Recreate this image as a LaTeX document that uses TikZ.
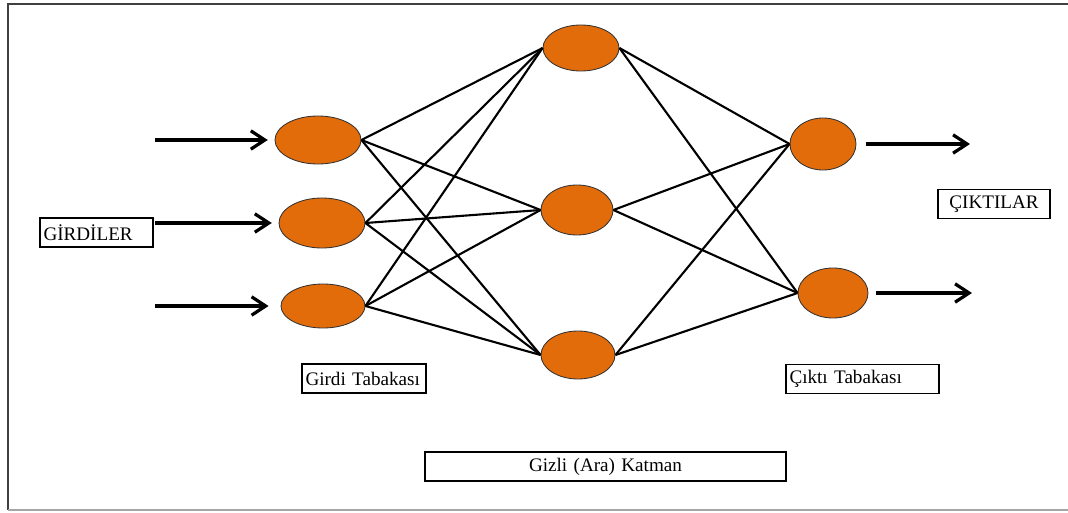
\documentclass[tikz,border=0pt]{standalone}
\usepackage{fontspec}
\setmainfont{Liberation Serif}
\usetikzlibrary{shapes.geometric,arrows.meta}
\definecolor{cellorange}{HTML}{E36C0A}
\tikzset{
  neuron/.style={ellipse, draw=black!80, fill=cellorange, inner sep=0pt, line width=0.6pt},
  link/.style={line width=1.5pt},
  feed/.style={line width=2.3pt, -{Straight Barb[length=3.5mm,width=4.6mm]}},
  tag/.style={draw, line width=0.9pt, inner xsep=2.5pt, inner ysep=0pt, minimum height=0.72cm, font=\fontsize{13.6}{15}\selectfont},
}

\begin{document}
\begin{tikzpicture}[x=0.025cm, y=-0.025cm]
    \useasboundingbox (0,0) rectangle (1068,513);
    % frame
    \draw[black!75, line width=1pt] (1068,4) -- (8,4) -- (8,510);
    \draw[black!35, line width=1pt] (8,510) -- (1068,510);
    % input layer
    \node[neuron, minimum width=2.15cm, minimum height=1.2cm] (inA) at (318,140) {};
    \node[neuron, minimum width=2.15cm, minimum height=1.25cm] (inB) at (322,223) {};
    \node[neuron, minimum width=2.1cm, minimum height=1.1cm] (inC) at (323,306) {};
    % hidden layer
    \node[neuron, minimum width=1.9cm, minimum height=1.15cm] (hidA) at (581,48) {};
    \node[neuron, minimum width=1.8cm, minimum height=1.25cm] (hidB) at (577,210) {};
    \node[neuron, minimum width=1.85cm, minimum height=1.2cm] (hidC) at (578,355) {};
    % output layer
    \node[neuron, minimum width=1.65cm, minimum height=1.3cm] (outA) at (823,144) {};
    \node[neuron, minimum width=1.75cm, minimum height=1.25cm] (outB) at (833,293) {};
    % weights input -> hidden
    \draw[link] (inA.east) -- (hidA.west);
    \draw[link] (inA.east) -- (hidB.west);
    \draw[link] (inA.east) -- (hidC.west);
    \draw[link] (inB.east) -- (hidA.west);
    \draw[link] (inB.east) -- (hidB.west);
    \draw[link] (inB.east) -- (hidC.west);
    \draw[link] (inC.east) -- (hidA.west);
    \draw[link] (inC.east) -- (hidB.west);
    \draw[link] (inC.east) -- (hidC.west);
    % weights hidden -> output
    \draw[link] (hidA.east) -- (outA.west);
    \draw[link] (hidA.east) -- (outB.west);
    \draw[link] (hidB.east) -- (outA.west);
    \draw[link] (hidB.east) -- (outB.west);
    \draw[link] (hidC.east) -- (outA.west);
    \draw[link] (hidC.east) -- (outB.west);
    % incoming and outgoing signals
    \coordinate (srcA) at (155,140);
    \coordinate (srcB) at (155,223);
    \coordinate (srcC) at (155,306);
    \coordinate (dstA) at (970,144);
    \coordinate (dstB) at (972,293);
    \draw[feed, shorten >=0.17cm] (srcA) -- (inA.west);
    \draw[feed, shorten >=0.17cm] (srcB) -- (inB.west);
    \draw[feed, shorten >=0.3cm] (srcC) -- (inC.west);
    \draw[feed, shorten <=0.25cm] (outA.east) -- (dstA);
    \draw[feed, shorten <=0.2cm] (outB.east) -- (dstB);
    % labels
    \node[tag, text width=2.825cm-5pt, align=left] (inputs) at (96.5,232.5) {GİRDİLER};
    \node[tag, text width=2.8cm-5pt, align=center] (outputs) at (994,204) {ÇIKTILAR};
    \node[tag, text width=3.1cm-5pt, align=left] (inlayer) at (364,378.5) {Girdi Tabakası};
    \node[tag, text width=3.825cm-5pt, align=left] (outlayer) at (862.5,379) {Çıktı Tabakası};
    \node[tag, text width=9.025cm-5pt, align=center] (hidlayer) at (605.5,466.5) {Gizli (Ara) Katman};
\end{tikzpicture}
\end{document}
